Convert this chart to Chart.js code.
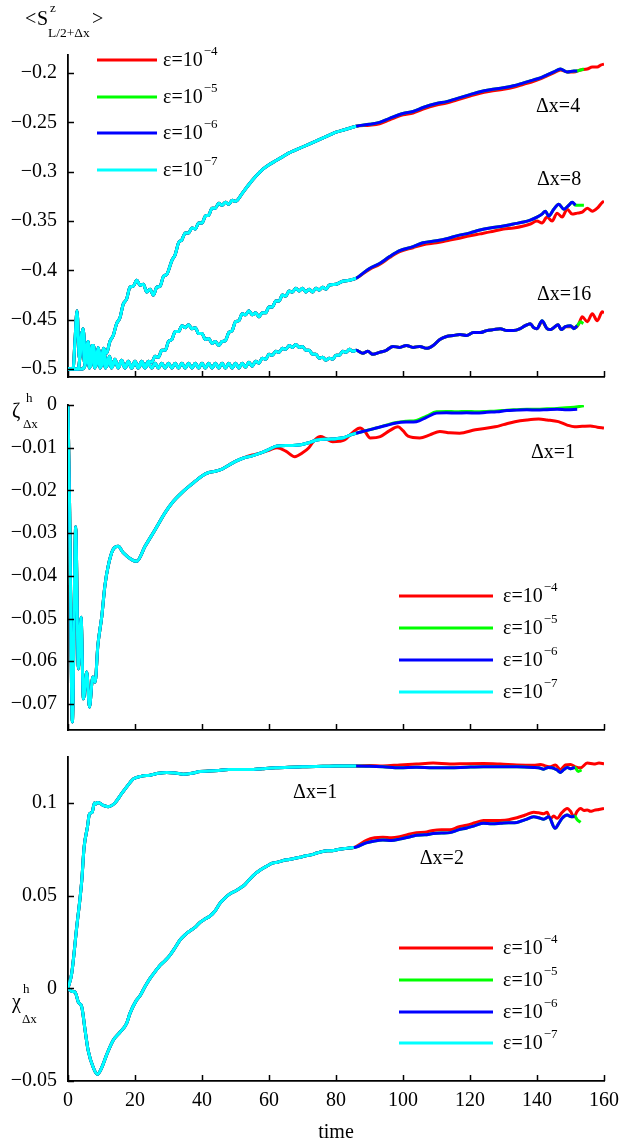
<!DOCTYPE html>
<html>
<head>
<meta charset="utf-8">
<script src="https://cdn.jsdelivr.net/npm/chart.js@4.4.1/dist/chart.umd.min.js"></script>
<style>
  html, body { margin: 0; padding: 0; background: #fff; }
  .panel { position: absolute; left: 0; width: 619px; }
</style>
</head>
<body>
<div class="panel" style="top:0;height:390px"><canvas id="c1"></canvas></div>
<div class="panel" style="top:390px;height:350px"><canvas id="c2"></canvas></div>
<div class="panel" style="top:740px;height:405px"><canvas id="c3"></canvas></div>
<script>
// [time, value] pairs. "Common" = all eps curves coincide there.
const xTicks = [0, 20, 40, 60, 80, 100, 120, 140, 160];
const epsLabels = ["\u22124", "\u22125", "\u22126", "\u22127"];

// ---- top panel: <S^z_{L/2+dx}>
const spin4Common = [[0,-0.5],[1.5,-0.5],[2.1,-0.47],[2.7,-0.441],[3.4,-0.49],[4.2,-0.462],[5,-0.495],[5.8,-0.474],[6.6,-0.497],[7.4,-0.476],[8.2,-0.495],[9,-0.478],[9.8,-0.492],[10.6,-0.479],[11.5,-0.484],[12.5,-0.472],[13.5,-0.466],[14.5,-0.454],[15.5,-0.448],[16.5,-0.434],[17.5,-0.429],[18.5,-0.417],[19.5,-0.416],[20.5,-0.410],[21.5,-0.415],[22.5,-0.414],[23.5,-0.422],[24.5,-0.419],[25.5,-0.425],[26.5,-0.417],[27.5,-0.416],[28.5,-0.406],[29.5,-0.404],[31,-0.390],[32,-0.384],[33,-0.372],[34,-0.369],[35,-0.362],[36,-0.362],[37,-0.357],[38,-0.358],[39,-0.352],[40,-0.352],[41,-0.345],[42,-0.344],[43,-0.337],[44,-0.337],[45,-0.332],[46,-0.334],[47,-0.331],[48,-0.333],[49,-0.329],[50,-0.330],[52,-0.322],[54,-0.313],[56,-0.305],[58,-0.298],[60,-0.293],[62,-0.289],[64,-0.285],[66,-0.281],[68,-0.278],[70,-0.275],[72,-0.272],[74,-0.269],[76,-0.266],[78,-0.263],[80,-0.260],[82,-0.258],[84,-0.256],[86,-0.254]];
const spin4Blue = [[90,-0.252],[93,-0.250],[96,-0.246],[100,-0.241],[103,-0.239],[106,-0.235],[110,-0.231],[113,-0.229],[116,-0.226],[120,-0.222],[123,-0.219],[126,-0.217],[130,-0.215],[133,-0.213],[136,-0.210],[139,-0.207],[141,-0.205],[143,-0.202],[145,-0.199],[147,-0.196],[149,-0.199],[151,-0.198],[152,-0.198]];
const spin4GreenEnd = [[153,-0.197],[154,-0.196]];
const spin4Red = [[90,-0.253],[93,-0.2515],[96,-0.2475],[100,-0.2425],[103,-0.2405],[106,-0.2365],[110,-0.2325],[113,-0.2305],[116,-0.2275],[120,-0.2235],[123,-0.2205],[126,-0.2185],[130,-0.2165],[133,-0.2145],[136,-0.2115],[139,-0.2085],[141,-0.206],[143,-0.203],[145,-0.200],[147,-0.197],[149,-0.199],[151,-0.199],[153,-0.197],[155,-0.196],[156.5,-0.194],[158,-0.194],[159,-0.192],[160,-0.191]];

const spin8Common = [[0,-0.5],[3,-0.5],[3.8,-0.48],[4.5,-0.459],[5.3,-0.49],[6,-0.472],[6.8,-0.497],[7.6,-0.476],[8.4,-0.497],[9.2,-0.48],[10,-0.497],[10.8,-0.484],[11.6,-0.497],[12.4,-0.487],[13.2,-0.498],[14,-0.49],[15,-0.498],[16,-0.491],[17,-0.498],[18,-0.492],[19,-0.498],[20,-0.492],[21,-0.498],[22,-0.492],[23,-0.497],[24,-0.492],[25,-0.493],[26,-0.487],[27,-0.488],[28,-0.481],[29,-0.481],[30,-0.472],[31,-0.470],[32,-0.462],[33,-0.462],[34,-0.456],[35,-0.458],[36,-0.455],[37,-0.459],[38,-0.458],[39,-0.464],[40,-0.464],[41,-0.470],[42,-0.469],[43,-0.474],[44,-0.472],[45,-0.476],[46,-0.472],[47,-0.471],[48,-0.463],[49,-0.461],[50,-0.452],[51,-0.451],[52,-0.444],[53,-0.445],[54,-0.441],[55,-0.445],[56,-0.443],[57,-0.447],[58,-0.443],[59,-0.443],[60,-0.437],[61,-0.437],[62,-0.431],[63,-0.431],[64,-0.425],[65,-0.426],[66,-0.421],[67,-0.422],[68,-0.418],[69,-0.421],[70,-0.418],[71,-0.422],[72,-0.419],[73,-0.422],[74,-0.418],[75,-0.420],[76,-0.417],[77,-0.419],[78,-0.415],[80,-0.414],[82,-0.411],[84,-0.410],[86,-0.408]];
const spin8Blue = [[88,-0.403],[90,-0.398],[93,-0.393],[96,-0.386],[99,-0.380],[103,-0.376],[106,-0.372],[110,-0.370],[113,-0.368],[116,-0.365],[120,-0.362],[123,-0.359],[126,-0.357],[130,-0.355],[133,-0.353],[136,-0.351],[138,-0.349],[140,-0.346],[141.5,-0.343],[142.5,-0.340],[143.5,-0.345],[145,-0.338],[146.5,-0.333],[148,-0.338],[149.5,-0.334],[150.5,-0.331],[151.5,-0.334]];
const spin8GreenEnd = [[152.5,-0.334],[154,-0.334]];
const spin8Red = [[90,-0.399],[93,-0.394],[96,-0.387],[99,-0.381],[103,-0.377],[106,-0.374],[110,-0.372],[113,-0.370],[116,-0.368],[120,-0.365],[123,-0.363],[126,-0.361],[130,-0.358],[133,-0.357],[136,-0.355],[138,-0.353],[140,-0.350],[141.5,-0.352],[143,-0.346],[144.5,-0.350],[146,-0.342],[147.5,-0.346],[149,-0.338],[150.5,-0.343],[152,-0.342],[153.5,-0.341],[155,-0.337],[156.5,-0.340],[158,-0.337],[159.5,-0.331],[160,-0.330]];

const spin16Common = [[0,-0.5],[4,-0.5],[5,-0.497],[5.7,-0.486],[6.4,-0.499],[7.2,-0.476],[8,-0.499],[8.8,-0.484],[9.6,-0.499],[10.4,-0.487],[11.2,-0.499],[12,-0.489],[13,-0.499],[14,-0.491],[15,-0.499],[16,-0.492],[17,-0.499],[18,-0.493],[19,-0.499],[20,-0.493],[21,-0.499],[22,-0.494],[23,-0.499],[24,-0.494],[25,-0.499],[26,-0.494],[27,-0.499],[28,-0.494],[29,-0.499],[30,-0.494],[31,-0.499],[32,-0.494],[33,-0.499],[34,-0.494],[35,-0.499],[36,-0.494],[37,-0.499],[38,-0.494],[39,-0.499],[40,-0.494],[41,-0.499],[42,-0.494],[43,-0.499],[44,-0.494],[45,-0.499],[46,-0.494],[47,-0.499],[48,-0.494],[49,-0.499],[50,-0.494],[51,-0.499],[52,-0.494],[53,-0.498],[54,-0.493],[55,-0.497],[56,-0.492],[57,-0.494],[58,-0.489],[59,-0.490],[60,-0.485],[61,-0.486],[62,-0.482],[63,-0.483],[64,-0.479],[65,-0.480],[66,-0.476],[67,-0.478],[68,-0.475],[69,-0.478],[70,-0.477],[71,-0.481],[72,-0.481],[73,-0.485],[74,-0.485],[75,-0.489],[76,-0.488],[77,-0.491],[78,-0.489],[79,-0.490],[80,-0.486],[81,-0.486],[82,-0.482],[83,-0.483],[84,-0.480],[85,-0.482],[86,-0.481]];
const spin16Blue = [[88,-0.484],[89.5,-0.482],[91,-0.485],[93,-0.483],[95,-0.481],[97,-0.477],[99,-0.478],[101,-0.476],[103,-0.478],[105,-0.477],[107,-0.479],[109,-0.476],[111,-0.470],[113,-0.467],[115,-0.466],[117,-0.465],[119,-0.466],[121,-0.463],[123,-0.463],[125,-0.461],[127,-0.460],[129,-0.459],[131,-0.461],[133,-0.461],[135,-0.459],[136.5,-0.456],[138,-0.454],[139,-0.458],[140,-0.459],[141.5,-0.451],[143,-0.459],[144,-0.460],[145,-0.458],[146.3,-0.455],[147.2,-0.460],[148.5,-0.457],[150,-0.456],[151,-0.459],[152,-0.456]];
const spin16GreenEnd = [[153,-0.452],[153.8,-0.454]];
const spin16Red = [[88,-0.484],[89.5,-0.482],[91,-0.485],[93,-0.483],[95,-0.481],[97,-0.477],[99,-0.478],[101,-0.476],[103,-0.478],[105,-0.477],[107,-0.479],[109,-0.476],[111,-0.470],[113,-0.467],[115,-0.466],[117,-0.465],[119,-0.466],[121,-0.463],[123,-0.463],[125,-0.461],[127,-0.460],[129,-0.459],[131,-0.461],[133,-0.461],[135,-0.459],[136.5,-0.456],[138,-0.454],[139,-0.458],[140,-0.459],[141.5,-0.452],[143,-0.459],[144,-0.460],[145,-0.458],[146.3,-0.455],[147.2,-0.460],[148.5,-0.457],[150,-0.457],[151.5,-0.458],[152.5,-0.454],[153.5,-0.447],[155,-0.452],[156.5,-0.444],[158,-0.451],[159.5,-0.442],[160,-0.443]];

// ---- middle panel: zeta^h_dx (dx=1)
const zetaEarly = [[0,0],[0.5,-0.025],[1.3,-0.0742],[2.3,-0.0285],[3.1,-0.0618],[3.9,-0.0497],[4.6,-0.0688],[5.6,-0.0625],[6.4,-0.0707],[7.4,-0.0637],[8.1,-0.0649],[8.9,-0.0564],[10.1,-0.0494],[11,-0.0424],[12,-0.0377],[13.5,-0.0338],[15,-0.0331],[16.5,-0.0346],[19,-0.0362],[20.5,-0.0366],[23,-0.0331],[26,-0.0292],[29,-0.0252],[31.4,-0.0226],[34,-0.0205],[37,-0.0185],[40,-0.0166],[42,-0.0158],[44,-0.0155],[46,-0.0150],[48,-0.0141],[50,-0.0132],[52.4,-0.0124]];
const zetaMid = [[55,-0.0119],[58,-0.0111],[60,-0.0104],[62.4,-0.0096],[66,-0.0095],[69.5,-0.0093],[72,-0.0088],[74.3,-0.0082],[77.8,-0.0080],[80,-0.0079],[82.5,-0.0076],[84,-0.0071],[86,-0.0066]];
const zetaBlue = [[89,-0.0060],[92,-0.0054],[95,-0.0048],[98,-0.0042],[101,-0.0040],[104,-0.0039],[107,-0.0029],[110,-0.0019],[113,-0.0018],[116,-0.0019],[119,-0.0018],[122,-0.0019],[125,-0.0017],[128,-0.0016],[131,-0.0013],[134,-0.0012],[137,-0.0011],[140,-0.0012],[143,-0.0011],[146,-0.0010],[149,-0.0011],[152,-0.0010]];
const zetaGreen = [[89,-0.0060],[92,-0.0054],[95,-0.0047],[98,-0.0041],[101,-0.0038],[104,-0.0036],[107,-0.0026],[110,-0.0016],[113,-0.0015],[116,-0.0016],[119,-0.0015],[122,-0.0016],[125,-0.0015],[128,-0.0014],[131,-0.0012],[134,-0.0011],[137,-0.0010],[140,-0.0010],[143,-0.0009],[146,-0.0008],[150,-0.0006],[154,-0.0002]];
const zetaRed = [[55,-0.0117],[57.6,-0.0112],[60,-0.0106],[62.4,-0.0100],[65,-0.0108],[67.7,-0.0121],[70,-0.0112],[71.9,-0.0100],[73.5,-0.0083],[75.4,-0.0074],[77,-0.0079],[79,-0.0086],[81,-0.0085],[82.5,-0.0082],[85,-0.0064],[87.2,-0.0054],[88.7,-0.0063],[90.2,-0.0077],[93.2,-0.0074],[96,-0.0060],[98.5,-0.0051],[100,-0.0060],[101.5,-0.0073],[105,-0.0077],[108,-0.0070],[111,-0.0062],[114,-0.0065],[116.9,-0.0066],[121.6,-0.0058],[127.5,-0.0051],[130,-0.0046],[133.4,-0.0039],[137,-0.0035],[140.5,-0.0033],[143,-0.0035],[146.4,-0.0039],[149,-0.0047],[151.2,-0.0051],[153.5,-0.0050],[155.9,-0.0049],[158,-0.0052],[160,-0.0054]];

// ---- bottom panel: chi^h_dx
const chi1Common = [[0,0],[1.1,0.008],[2.6,0.033],[4.1,0.058],[4.8,0.076],[5.8,0.087],[6.4,0.094],[7.2,0.095],[7.9,0.100],[8.4,0.0995],[8.8,0.1002],[9.6,0.0998],[10.5,0.0987],[12,0.098],[14,0.100],[16,0.105],[18.5,0.111],[19.5,0.113],[22,0.1145],[24.5,0.115],[27,0.116],[29.5,0.1165],[32,0.1162],[34.4,0.1155],[37,0.116],[39.4,0.117],[42,0.1172],[45,0.1175],[48,0.118],[51,0.118],[54.3,0.118],[58,0.1185],[62,0.119],[66,0.1193],[70,0.1195],[74,0.1197],[78,0.1198],[82,0.120],[86,0.120]];
const chi1Blue = [[90,0.1198],[94,0.1195],[99,0.119],[104,0.1193],[109,0.119],[114,0.119],[119,0.1193],[124,0.1195],[129,0.1195],[134,0.1195],[139,0.1192],[140.5,0.1190],[142,0.1182],[143.3,0.1192],[144.5,0.1190],[146,0.1178],[147,0.1165],[148,0.1180],[149,0.1192],[150,0.1185],[151.3,0.1192]];
const chi1GreenEnd = [[152.3,0.1170],[153.3,0.1178]];
const chi1Red = [[90,0.1202],[94,0.1200],[99,0.1205],[104,0.1210],[109,0.1215],[114,0.1210],[119,0.1212],[124,0.1213],[129,0.1210],[134,0.1205],[139,0.1203],[141,0.1208],[142.5,0.1200],[144,0.1195],[145.5,0.1205],[147,0.1180],[148.5,0.1205],[150,0.1208],[151.5,0.1195],[153,0.1190],[155,0.1215],[157,0.1210],[158.5,0.1215],[160,0.1212]];

const chi2Common = [[0,0],[1.1,-0.0016],[2.1,-0.002],[3.1,-0.0075],[4.1,-0.010],[5.1,-0.0226],[6,-0.0334],[7.6,-0.043],[8.8,-0.0464],[10.1,-0.0426],[11.5,-0.036],[13.5,-0.028],[15.5,-0.0237],[17.5,-0.0189],[18.5,-0.0135],[20.4,-0.0065],[21.5,-0.004],[23,0.001],[24.5,0.0054],[26,0.009],[27.5,0.0124],[29,0.015],[30.4,0.0178],[32,0.022],[33.4,0.026],[35,0.029],[36.4,0.031],[38,0.033],[39.4,0.0356],[41,0.0375],[42.4,0.039],[44,0.042],[45.4,0.046],[47,0.049],[48.4,0.051],[50,0.0525],[51.3,0.054],[52.8,0.056],[54.3,0.059],[56,0.062],[57.5,0.064],[59.4,0.066],[61,0.0675],[62.5,0.068],[64.3,0.069],[66,0.0695],[67.5,0.070],[69.3,0.0707],[71,0.0715],[72.5,0.072],[74.3,0.073],[76,0.0738],[77.5,0.0742],[79.3,0.0744],[81,0.075],[83,0.0755],[85.3,0.076]];
const chi2Blue = [[86,0.0762],[89,0.0785],[91.5,0.0795],[94,0.0800],[96.5,0.0798],[99,0.0805],[101.5,0.0815],[104,0.0826],[106.5,0.0828],[109,0.0835],[111.5,0.0838],[114,0.0840],[116.5,0.0855],[119,0.0865],[121.5,0.0878],[124,0.0890],[126.5,0.0888],[129,0.0890],[131.5,0.0893],[134,0.0895],[136.5,0.0910],[139,0.0925],[140.5,0.0920],[142,0.0912],[143.5,0.0925],[145.4,0.0863],[146.5,0.0890],[147.5,0.0918],[149,0.0935],[150.3,0.0925],[151.2,0.0930]];
const chi2GreenEnd = [[152,0.0910],[153,0.0895]];
const chi2Red = [[86,0.0765],[89.2,0.0800],[91.5,0.0812],[94,0.0815],[96.5,0.0812],[99,0.0818],[101.5,0.0830],[104,0.0840],[106.5,0.0842],[109,0.0852],[111.5,0.0855],[114,0.0855],[116.5,0.0870],[119,0.0880],[121.5,0.0893],[124,0.0906],[126.5,0.0905],[129,0.0906],[131.5,0.0910],[134,0.0920],[136.5,0.0935],[139,0.0950],[140.5,0.0947],[142,0.0942],[143,0.0950],[144,0.0914],[145,0.0930],[146,0.0917],[147.3,0.0945],[149,0.0970],[150,0.0955],[151,0.0925],[152,0.0955],[153,0.0970],[154,0.0960],[155,0.0962],[156,0.0955],[157,0.0960],[158.5,0.0965],[160,0.0970]];

const FONT = "'Liberation Serif', 'Times New Roman', serif";
const COLORS = ["#ff0000", "#00ff00", "#0000ff", "#00ffff"];
Chart.defaults.color = "#000";
Chart.defaults.font.family = FONT;

function pts(...segs) {
  return [].concat(...segs).map(p => ({ x: p[0], y: p[1] }));
}

// eps index: 0 red, 1 green, 2 blue, 3 cyan (cyan drawn on top)
function line(i, data) {
  return {
    data: data,
    borderColor: COLORS[i],
    borderWidth: 3,
    pointRadius: 0,
    fill: false,
    cubicInterpolationMode: "monotone",
    order: 3 - i
  };
}

function minusFmt(v) {
  const r = Math.round(v * 1000) / 1000;
  return (r < 0 ? "\u2212" : "") + Math.abs(r).toString();
}

// inward ticks, hand-placed legend, curve labels, axis titles
const decor = {
  id: "decor",
  afterDraw(chart, args, o) {
    const { ctx, chartArea: a, scales: { x, y } } = chart;
    ctx.save();
    ctx.strokeStyle = "#000";
    ctx.lineWidth = 1.5;
    ctx.beginPath();
    y.ticks.forEach(t => {
      const py = Math.round(y.getPixelForValue(t.value)) + 0.5;
      ctx.moveTo(a.left, py); ctx.lineTo(a.left + 6, py);
    });
    x.ticks.forEach(t => {
      const px = Math.round(x.getPixelForValue(t.value)) + 0.5;
      ctx.moveTo(px, a.bottom); ctx.lineTo(px, a.bottom - 6);
    });
    ctx.stroke();

    // legend
    const lg = o.legend;
    ctx.textBaseline = "middle";
    ctx.textAlign = "left";
    lg.ys.forEach((dy, i) => {
      const ly = a.top + dy;
      ctx.strokeStyle = COLORS[i];
      ctx.lineWidth = 3;
      ctx.beginPath();
      ctx.moveTo(a.left + lg.x0, ly); ctx.lineTo(a.left + lg.x1, ly);
      ctx.stroke();
      ctx.fillStyle = "#000";
      ctx.font = "20px " + FONT;
      ctx.fillText("\u03b5=10", a.left + lg.tx, ly + 1);
      const w = ctx.measureText("\u03b5=10").width;
      ctx.font = "13px " + FONT;
      ctx.fillText(epsLabels[i], a.left + lg.tx + w + 1, ly - 8);
    });

    // curve labels at data positions
    ctx.font = "20px " + FONT;
    o.labels.forEach(l => {
      ctx.fillText(l.text, x.getPixelForValue(l.t), y.getPixelForValue(l.v));
    });

    // axis title pieces (canvas pixels)
    ctx.textBaseline = "alphabetic";
    o.title.forEach(p => {
      ctx.font = p.size + "px " + FONT;
      ctx.fillText(p.text, p.x, p.y);
    });
    ctx.restore();
  }
};

function options(c) {
  return {
    responsive: true,
    maintainAspectRatio: false,
    animation: false,
    layout: { padding: { top: c.top, right: 15, left: 0, bottom: 0 } },
    plugins: {
      legend: { display: false },
      tooltip: { enabled: false },
      decor: { legend: c.legend, labels: c.labels, title: c.title }
    },
    scales: {
      x: {
        type: "linear",
        min: 0,
        max: 160,
        afterBuildTicks: s => { s.ticks = xTicks.map(v => ({ value: v })); },
        ticks: { display: c.xLabels, font: { size: 20 }, padding: 8, maxRotation: 0, autoSkip: false },
        grid: { drawOnChartArea: false, drawTicks: false },
        border: { color: "#000", width: 1.8 },
        title: { display: c.xLabels, text: "time", font: { size: 20, lineHeight: 1.2 }, padding: { top: 0, bottom: 0 } },
        afterFit: s => { s.height = c.xHeight; s.paddingLeft = 0; s.paddingRight = 0; }
      },
      y: {
        min: c.ymin,
        max: c.ymax,
        ticks: { stepSize: c.step, includeBounds: false, callback: minusFmt, font: { size: 20 }, padding: 11 },
        grid: { drawOnChartArea: false, drawTicks: false },
        border: { color: "#000", width: 1.8 },
        afterFit: s => { s.width = 68; s.paddingTop = 0; s.paddingBottom = 0; }
      }
    }
  };
}

new Chart(document.getElementById("c1"), {
  type: "line",
  data: {
    datasets: [
      line(0, pts(spin4Common, spin4Red)), line(1, pts(spin4Common, spin4Blue, spin4GreenEnd)),
      line(2, pts(spin4Common, spin4Blue)), line(3, pts(spin4Common)),
      line(0, pts(spin8Common, spin8Red)), line(1, pts(spin8Common, spin8Blue, spin8GreenEnd)),
      line(2, pts(spin8Common, spin8Blue)), line(3, pts(spin8Common)),
      line(0, pts(spin16Common, spin16Red)), line(1, pts(spin16Common, spin16Blue, spin16GreenEnd)),
      line(2, pts(spin16Common, spin16Blue)), line(3, pts(spin16Common))
    ]
  },
  options: options({
    top: 55, xHeight: 13, xLabels: false, ymin: -0.508, ymax: -0.1818, step: 0.05,
    legend: { x0: 29, x1: 89, tx: 95, ys: [5, 42, 78, 115] },
    labels: [
      { text: "\u0394x=4", t: 139.7, v: -0.2343 },
      { text: "\u0394x=8", t: 140, v: -0.3079 },
      { text: "\u0394x=16", t: 140, v: -0.4248 }
    ],
    title: [
      { text: "<", x: 25, y: 25, size: 20 },
      { text: "S", x: 37, y: 25, size: 20 },
      { text: "z", x: 50, y: 12, size: 13 },
      { text: "L/2+\u0394x", x: 48, y: 37, size: 13.5 },
      { text: ">", x: 92, y: 25, size: 20 }
    ]
  }),
  plugins: [decor]
});

new Chart(document.getElementById("c2"), {
  type: "line",
  data: {
    datasets: [
      line(0, pts(zetaEarly, zetaRed)), line(1, pts(zetaEarly, zetaMid, zetaGreen)),
      line(2, pts(zetaEarly, zetaMid, zetaBlue)), line(3, pts(zetaEarly, zetaMid))
    ]
  },
  options: options({
    top: 15, xHeight: 10, xLabels: false, ymin: -0.0761, ymax: 0, step: 0.01,
    legend: { x0: 331, x1: 425, tx: 435, ys: [191, 223, 255, 287] },
    labels: [{ text: "\u0394x=1", t: 138.2, v: -0.0112 }],
    title: [
      { text: "\u03b6", x: 12, y: 27, size: 20 },
      { text: "h", x: 26, y: 12, size: 13 },
      { text: "\u0394x", x: 23, y: 38, size: 13 }
    ]
  }),
  plugins: [decor]
});

new Chart(document.getElementById("c3"), {
  type: "line",
  data: {
    datasets: [
      line(0, pts(chi1Common, chi1Red)), line(1, pts(chi1Common, chi1Blue, chi1GreenEnd)),
      line(2, pts(chi1Common, chi1Blue)), line(3, pts(chi1Common)),
      line(0, pts(chi2Common, chi2Red)), line(1, pts(chi2Common, chi2Blue, chi2GreenEnd)),
      line(2, pts(chi2Common, chi2Blue)), line(3, pts(chi2Common))
    ]
  },
  options: options({
    top: 17, xHeight: 64, xLabels: true, ymin: -0.05, ymax: 0.1248, step: 0.05,
    legend: { x0: 331, x1: 425, tx: 435, ys: [191, 223, 255, 286] },
    labels: [
      { text: "\u0394x=1", t: 67.2, v: 0.1057 },
      { text: "\u0394x=2", t: 105, v: 0.0701 }
    ],
    title: [
      { text: "\u03c7", x: 12, y: 268, size: 20 },
      { text: "h", x: 23, y: 253, size: 13 },
      { text: "\u0394x", x: 22, y: 283, size: 13 }
    ]
  }),
  plugins: [decor]
});
</script>
</body>
</html>
